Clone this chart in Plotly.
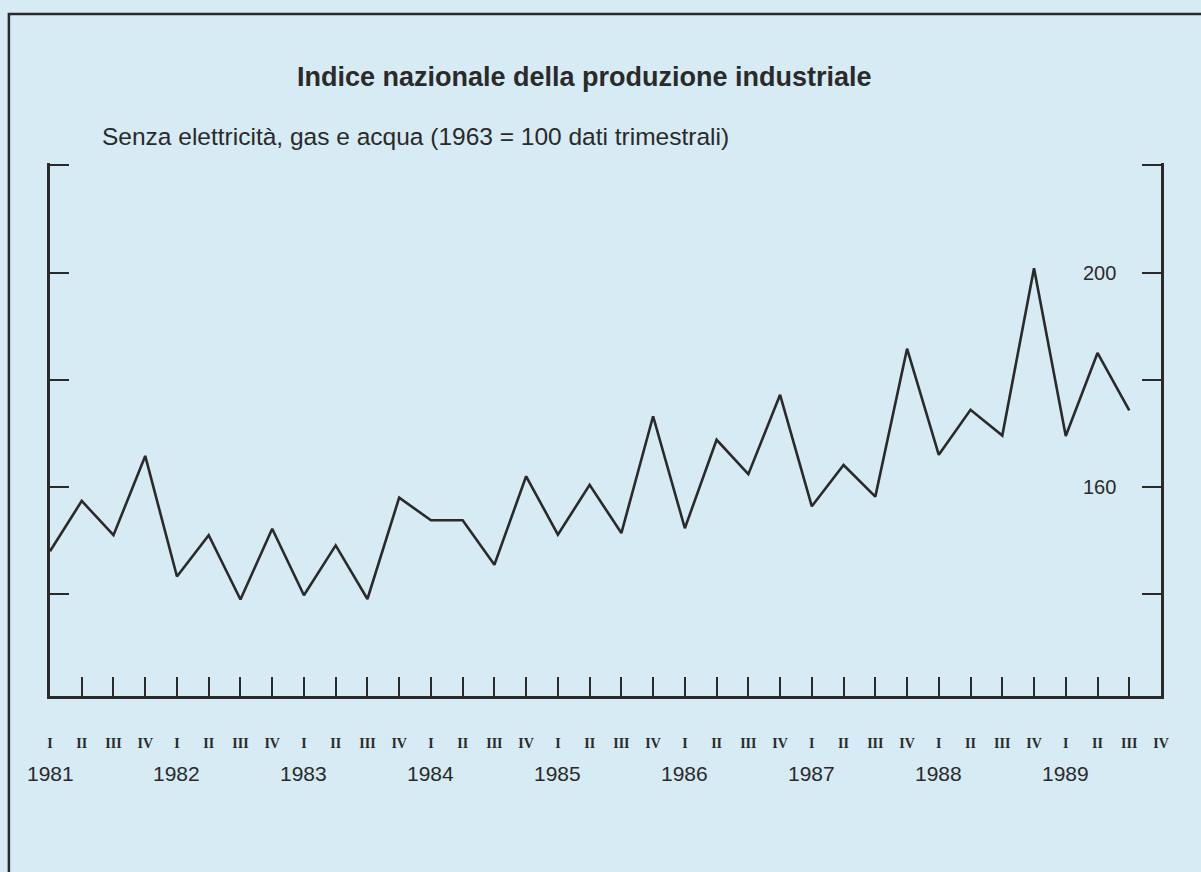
import plotly.graph_objects as go

# Indice trimestrale (1963 = 100), I trim. 1981 - III trim. 1989
quarters = ["I", "II", "III", "IV"]
years = [1981, 1982, 1983, 1984, 1985, 1986, 1987, 1988, 1989]
index_values = [
    148.0, 157.4, 151.0, 165.8,   # 1981
    143.3, 151.0, 139.0, 152.2,   # 1982
    139.8, 149.1, 139.1, 158.0,   # 1983
    153.8, 153.8, 145.5, 162.0,   # 1984
    151.1, 160.4, 151.4, 173.2,   # 1985
    152.3, 168.8, 162.4, 177.2,   # 1986
    156.4, 164.1, 158.2, 185.8,   # 1987
    166.0, 174.4, 169.6, 200.8,   # 1988
    169.5, 185.0, 174.3,          # 1989
]
y_ticks = [140, 160, 180, 200, 220]
y_labelled = [160, 200]

BG = "#d6ebf4"
INK = "#2a2a2a"
FONT = "Liberation Sans"

quarter_labels = [q for _ in years for q in quarters]
x_pos = list(range(len(quarter_labels)))

fig = go.Figure()
fig.add_trace(go.Scatter(
    x=x_pos[:len(index_values)], y=index_values,
    mode="lines",
    line=dict(color=INK, width=2.6),
    hoverinfo="x+y",
    showlegend=False,
))

# year labels under the quarter numerals
for k, yr in enumerate(years):
    fig.add_annotation(x=4 * k, y=-0.1445, xref="x", yref="paper",
                       text=str(yr), showarrow=False,
                       font=dict(family=FONT, size=21, color=INK),
                       xanchor="center", yanchor="middle")

# value labels just inside the right axis
for v in y_labelled:
    fig.add_annotation(x=0.945, y=v, xref="paper", yref="y",
                       text=str(v), showarrow=False,
                       font=dict(family=FONT, size=20, color=INK),
                       xanchor="center", yanchor="middle")

fig.add_annotation(x=0.4815, y=1.1614, xref="paper", yref="paper",
                   text="<b>Indice nazionale della produzione industriale</b>",
                   showarrow=False, xanchor="center", yanchor="middle",
                   font=dict(family=FONT, size=27, color=INK))
fig.add_annotation(x=0.045, y=1.0488, xref="paper", yref="paper",
                   text="Senza elettricità, gas e acqua (1963 = 100 dati trimestrali)",
                   showarrow=False, xanchor="left", yanchor="middle",
                   font=dict(family=FONT, size=24.5, color=INK))

# page frame (left and top edges visible)
fig.add_shape(type="rect", xref="paper", yref="paper",
              x0=-0.037, x1=1.2, y0=-0.5, y1=1.2795,
              line=dict(color=INK, width=2.5), fillcolor="rgba(0,0,0,0)")

fig.update_layout(
    width=1201, height=872,
    margin=dict(l=50, r=40, t=163, b=176),
    paper_bgcolor=BG, plot_bgcolor=BG,
    font=dict(family=FONT, color=INK),
    xaxis=dict(
        range=[0, len(quarter_labels) - 1],
        tickvals=x_pos, ticktext=quarter_labels,
        ticks="inside", ticklen=19, tickwidth=2.2, tickcolor=INK,
        showline=True, linecolor=INK, linewidth=2.5,
        showgrid=False, zeroline=False,
        ticklabelstandoff=32,
        tickfont=dict(family="Liberation Serif", size=14, color=INK, weight="bold"),
    ),
    yaxis=dict(
        range=[121, 220.45], side="right",
        tickvals=y_ticks, showticklabels=False,
        ticks="inside", ticklen=19, tickwidth=2.2, tickcolor=INK,
        showline=True, mirror="ticks", linecolor=INK, linewidth=2.5,
        showgrid=False, zeroline=False,
    ),
)

fig.write_html("out.html", config={"displayModeBar": False}, post_script=(
    "document.body.style.margin='0';"
    "document.body.style.background='" + BG + "';"
))
